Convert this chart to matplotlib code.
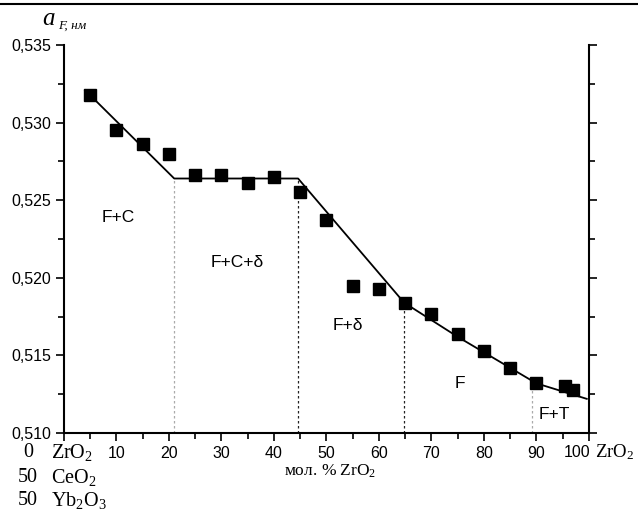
import matplotlib
matplotlib.use("Agg")
import matplotlib.pyplot as plt
from matplotlib.lines import Line2D
from matplotlib.ticker import MultipleLocator, FuncFormatter

plt.rcParams['font.family'] = ['Liberation Sans', 'DejaVu Sans']
plt.rcParams['mathtext.fontset'] = 'custom'
plt.rcParams['mathtext.rm'] = 'Liberation Serif'
plt.rcParams['mathtext.it'] = 'Liberation Serif:italic'

# measured lattice parameter, nm
zro2 = [5, 10, 15, 20, 25, 30, 35, 40, 45, 50, 55, 60, 65, 70, 75, 80, 85, 90, 95.5, 97]
a_f = [0.5318, 0.5295, 0.5286, 0.5280, 0.5266, 0.5266, 0.5261, 0.5265, 0.5255, 0.5237,
       0.5195, 0.5193, 0.5184, 0.5177, 0.5164, 0.5153, 0.5142, 0.5132, 0.5130, 0.5128]

# trend line through the phase regions
fit_x = [4, 21, 44.6, 64.8, 75, 90, 99.6]
fit_y = [0.5321, 0.5264, 0.5264, 0.5184, 0.5162, 0.5132, 0.5122]

# phase boundaries (x, top of line, colour)
bounds_x = [21, 44.6, 64.8, 89.1]
bounds_y = [0.5264, 0.5264, 0.5184, 0.5132]
bounds_c = ['#aaaaaa', '#222222', '#222222', '#aaaaaa']

regions = ['F+C', 'F+C+δ', 'F+δ', 'F', 'F+T']
region_x = [10.3, 33, 54, 75.4, 93.5]
region_y = [0.5239, 0.5210, 0.5169, 0.5132, 0.5112]

fig = plt.figure(figsize=(6.38, 5.12), dpi=100)
ax = fig.add_axes([0.1003, 0.1543, 0.8227, 0.7577])

for bx, by, bc in zip(bounds_x, bounds_y, bounds_c):
    ax.plot([bx, bx], [0.510, by], color=bc, lw=0.9, ls=(0, (2, 2)))

ax.plot(fit_x, fit_y, color='black', lw=1.3)
ax.plot(zro2, a_f, ls='none', marker='s', ms=8.5, color='black')

for t, x, y in zip(regions, region_x, region_y):
    ax.text(x, y, t, fontsize=12.5, ha='center', va='center')

ax.set_xlim(0, 100)
ax.set_ylim(0.510, 0.535)
ax.spines['top'].set_visible(False)
for s in ['left', 'right', 'bottom']:
    ax.spines[s].set_linewidth(1.5)

ax.xaxis.set_major_locator(MultipleLocator(10))
ax.xaxis.set_minor_locator(MultipleLocator(5))
ax.yaxis.set_major_locator(MultipleLocator(0.005))
ax.yaxis.set_minor_locator(MultipleLocator(0.0025))
ax.tick_params(which='both', direction='out', width=1.2, right=True, labelsize=11.5)
ax.tick_params(which='major', length=6)
ax.tick_params(which='minor', length=4)
ax.xaxis.set_major_formatter(FuncFormatter(lambda v, p: '' if v < 1 or v > 99 else '%d' % v))
ax.yaxis.set_major_formatter(FuncFormatter(lambda v, p: ('%.3f' % v).replace('.', ',')))

serif = 'Liberation Serif'
rows_y = [0.117, 0.068, 0.022]
for lab, num, y in zip(['ZrO$_2$', 'CeO$_2$', 'Yb$_2$O$_3$'], ['0', '50', '50'], rows_y):
    fig.text(0.044, y, num, fontsize=14.5, family=serif, ha='center', va='center')
    fig.text(0.080, y, lab, fontsize=14.5, family=serif, ha='left', va='center')
fig.text(0.904, 0.117, '100', fontsize=11.5, ha='center', va='center')
fig.text(0.933, 0.117, 'ZrO$_2$', fontsize=13.5, family=serif, ha='left', va='center')
fig.text(0.517, 0.080, 'мол. % ZrO$_2$', fontsize=12.5, family=serif, ha='center', va='center')

fig.text(0.066, 0.963, '$a$', fontsize=18, family=serif, ha='left', va='center')
fig.text(0.091, 0.950, 'F, нм', fontsize=9.5, family=serif, style='italic', ha='left', va='center')

fig.add_artist(Line2D([0, 1], [0.993, 0.993], color='black', lw=1.5))

fig.savefig('out.png', dpi=100)
